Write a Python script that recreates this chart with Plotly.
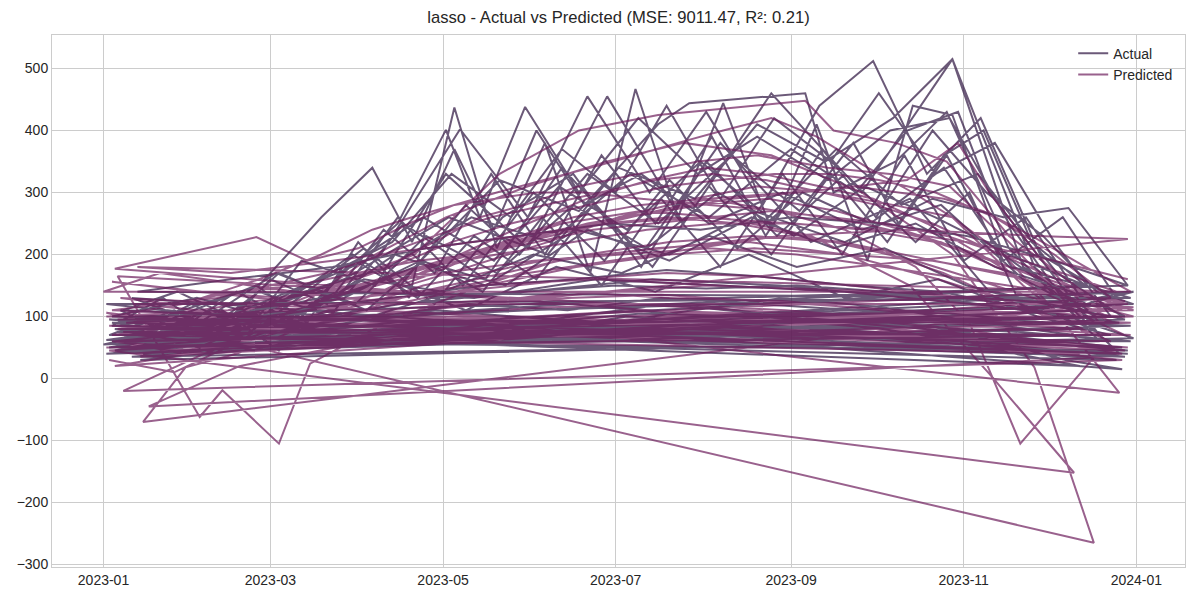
import pandas as pd
import plotly.graph_objects as go

# day offsets from 2023-01-01 (test rows, grouped series)
day_offset = [
    2, 25, 48, 70, 96, 121, 150, 178, 205, 236, 268, 300, 329, 350,
    1, 30, 62, 95, 130, 165, 200, 240, 275, 310, 343,
    6, 28, 55, 80, 106, 135, 162, 190, 218, 250, 285, 313, 343,
    2, 40, 75, 110, 145, 180, 215, 250, 290, 325, 362,
    4, 54, 72, 90, 108, 124, 139, 156, 172, 188, 203, 219, 236, 252, 270, 286, 300, 318, 336, 359,
    3, 33, 64, 92, 120, 152, 183, 214, 245, 276, 305, 334, 361,
    14, 29, 47, 69, 92, 117, 141, 166, 190, 213, 238, 262, 287, 306, 324, 350,
    16, 48, 82, 115, 150, 185, 220, 256, 290, 326, 360,
    7, 26, 45, 62, 83, 104, 127, 152, 177, 200, 224, 247, 271, 297, 321, 346,
    5, 34, 42, 62, 73, 100, 128, 160, 195, 228, 262, 295, 330, 356,
    9, 60, 110, 140, 168, 196, 207, 248, 258, 280, 298, 320, 352,
    10, 52, 96, 140, 180, 222, 265, 305, 345,
    12, 31, 50, 71, 93, 113, 134, 155, 176, 197, 218, 240, 261, 283, 304, 326, 347, 364,
    3, 35, 67, 98, 126, 150, 171, 193, 213, 233, 253, 272, 291, 310, 331, 357,
    1, 44, 88, 131, 174, 218, 262, 306, 349,
    6, 39, 77, 118, 158, 199, 241, 283, 324, 363,
    8, 46, 85, 122, 157, 182, 209, 231, 255, 279, 300, 325, 348,
    2, 36, 74, 103, 135, 167, 200, 230, 262, 293, 318, 341, 362,
    11, 57, 105, 150, 194, 239, 285, 330, 362,
    4, 27, 58, 91, 126, 161, 196, 232, 268, 303, 339, 361,
    3, 21, 40, 59, 79, 99, 117, 137, 156, 176, 195, 215, 234, 254, 273, 293, 312, 332, 351, 364,
    8, 38, 66, 86, 113, 138, 161, 185, 211, 235, 259, 282, 309, 337, 360,
    5, 43, 80, 104, 121, 133, 149, 168, 189, 210, 231, 256, 278, 299, 320, 345,
    2, 31, 63, 97, 129, 164, 197, 232, 266, 299, 334, 363,
    1, 41, 79, 119, 160, 201, 243, 284, 323, 362,
    6, 24, 47, 68, 89, 111, 131, 153, 173, 194, 214, 236, 257, 277, 298, 318, 339, 358,
    0, 20, 52, 84, 116, 148, 181, 213, 245, 277, 309, 341, 364,
    13, 49, 87, 124, 163, 203, 244, 288, 329, 358,
    9, 44, 76, 102, 123, 144, 162, 181, 199, 218, 237, 257, 274, 294, 315, 336, 356,
    4, 30, 58, 85, 112, 142, 171, 200, 229, 258, 287, 315, 342, 361,
    7, 42, 78, 115, 152, 190, 228, 266, 302, 340, 360,
    10, 34, 61, 89, 114, 139, 166, 192, 217, 244, 269, 294, 320, 347,
    3, 39, 71, 101, 130, 158, 186, 214, 243, 266, 284, 302, 313, 330, 352,
    5, 37, 69, 102, 134, 167, 199, 231, 264, 296, 328, 359,
    2, 28, 55, 77, 95, 109, 124, 138, 153, 170, 190, 214, 240, 268, 296, 325, 355,
    7, 35, 63, 88, 105, 128, 147, 171, 196, 222, 246, 265, 281, 297, 311, 328, 347, 363,
    12, 45, 81, 114, 147, 179, 211, 243, 275, 305, 336, 362,
]

actual = [
    70, 110, 60, 190, 150, 330, 210, 455, 250, 460, 300, 515, 180, 90,
    62, 80, 75, 95, 110, 120, 105, 130, 115, 90, 70,
    90, 50, 140, 100, 250, 160, 340, 200, 380, 220, 290, 140, 110,
    40, 65, 80, 70, 100, 90, 115, 95, 85, 60, 45,
    60, 150, 90, 220, 130, 437, 210, 380, 170, 467, 260, 444, 240, 410, 190, 440, 425, 200, 140, 40,
    100, 130, 90, 160, 140, 200, 170, 230, 180, 210, 150, 120, 95,
    40, 90, 60, 130, 210, 120, 260, 330, 180, 350, 230, 330, 220, 300, 120, 80,
    55, 70, 60, 85, 75, 100, 90, 80, 70, 65, 50,
    110, 140, 100, 170, 130, 260, 150, 300, 190, 320, 210, 300, 250, 340, 180, 150,
    80, 50, 110, 45, 120, 160, 110, 180, 140, 200, 130, 160, 100, 70,
    50, 90, 180, 320, 270, 410, 444, 460, 300, 350, 430, 210, 60,
    35, 50, 70, 60, 80, 75, 65, 55, 20,
    75, 120, 80, 150, 110, 190, 140, 260, 150, 290, 180, 330, 200, 360, 190, 260, 120, 140,
    90, 70, 140, 200, 402, 260, 455, 300, 430, 280, 440, 512, 330, 420, 200, 130,
    120, 100, 140, 130, 160, 150, 140, 130, 120,
    65, 55, 90, 110, 95, 120, 100, 85, 75, 60,
    80, 100, 160, 260, 200, 340, 290, 410, 350, 420, 515, 180, 110,
    50, 80, 110, 200, 150, 240, 200, 270, 220, 290, 260, 275, 150,
    100, 85, 120, 140, 160, 150, 130, 110, 140,
    45, 60, 50, 75, 65, 90, 80, 70, 85, 60, 45, 35,
    85, 130, 70, 160, 120, 240, 170, 330, 200, 360, 250, 390, 230, 370, 260, 400, 300, 230, 140, 120,
    60, 110, 80, 180, 260, 190, 310, 240, 350, 260, 370, 280, 330, 170, 100,
    50, 90, 150, 250, 401, 260, 438, 300, 420, 330, 390, 320, 400, 420, 250, 90,
    95, 85, 105, 100, 120, 110, 130, 120, 110, 105, 90, 85,
    40, 55, 65, 60, 70, 75, 70, 60, 50, 40,
    110, 70, 140, 90, 190, 130, 230, 160, 280, 180, 310, 200, 330, 220, 360, 190, 260, 130,
    55, 75, 95, 85, 130, 140, 150, 145, 150, 140, 120, 100, 65,
    30, 45, 60, 55, 65, 60, 55, 50, 40, 30,
    70, 100, 160, 220, 330, 260, 370, 300, 440, 290, 420, 350, 460, 330, 380, 220, 100,
    80, 60, 100, 130, 190, 150, 240, 190, 260, 210, 250, 180, 140, 100,
    70, 60, 80, 95, 90, 105, 100, 90, 75, 30, 15,
    130, 90, 170, 120, 230, 170, 280, 210, 300, 230, 310, 260, 200, 150,
    60, 80, 140, 180, 260, 220, 330, 260, 370, 300, 400, 430, 300, 200, 70,
    75, 90, 110, 130, 150, 160, 175, 165, 150, 140, 110, 90,
    70, 110, 150, 260, 340, 220, 370, 240, 400, 280, 330, 250, 300, 240, 280, 160, 90,
    60, 90, 120, 200, 150, 280, 200, 330, 250, 360, 270, 380, 250, 360, 400, 220, 150, 130,
    140, 160, 180, 210, 230, 250, 240, 260, 250, 230, 190, 150,
]

predicted = [
    30, 10, 60, 120, 200, 260, 310, 350, 380, 360, 300, 200, 18, -265,
    106, 90, 85, 100, 120, 140, 130, 125, 110, 95, 80,
    60, 40, 90, 130, 170, 210, 250, 270, 260, 230, 150, 8, -152,
    45, 55, 60, 75, 90, 100, 105, 95, 80, 60, 50,
    177, 228, 190, 210, 250, 280, 300, 320, 340, 360, 380, 400, 420, 390, 340, 300, 260, 200, 110, -23,
    156, 140, 130, 150, 170, 190, 200, 210, 200, 180, 160, 140, 125,
    -70, 18, 40, 80, 130, 170, 220, 260, 280, 290, 270, 240, 180, 90, -105, 34,
    -45, 20, 50, 70, 80, 95, 100, 90, 70, 45, 30,
    -20, 20, 60, 100, 140, 170, 200, 230, 250, 260, 250, 230, 210, 170, 120, 80,
    165, -62, -19, -105, 24, 90, 140, 190, 210, 220, 200, 160, 110, 60,
    90, 110, 200, 330, 400, 425, 430, 448, 400, 380, 350, 230, 120,
    40, 55, 65, 80, 90, 85, 70, 55, 40,
    70, 60, 80, 100, 120, 150, 170, 190, 200, 210, 220, 230, 220, 200, 180, 160, 120, 100,
    60, 40, 90, 140, 200, 250, 290, 320, 340, 330, 310, 290, 250, 200, 140, 90,
    100, 110, 130, 150, 160, 150, 140, 120, 100,
    70, 80, 90, 105, 115, 120, 110, 95, 80, 70,
    80, 90, 120, 170, 220, 260, 290, 310, 300, 280, 260, 150, 70,
    50, 60, 90, 120, 150, 180, 200, 210, 200, 190, 170, 140, 120,
    120, 100, 130, 170, 200, 230, 240, 230, 225,
    60, 50, 65, 70, 80, 85, 90, 80, 75, 65, 55, 45,
    110, 120, 130, 150, 170, 200, 230, 260, 280, 300, 320, 330, 320, 300, 280, 250, 210, 170, 130, 110,
    90, 100, 110, 140, 180, 210, 240, 260, 280, 290, 270, 240, 200, 150, 110,
    80, 100, 150, 190, 230, 260, 280, 310, 330, 350, 360, 340, 330, 310, 220, 100,
    85, 80, 95, 110, 120, 130, 135, 125, 115, 105, 95, 90,
    50, 55, 60, 70, 75, 80, 75, 65, 55, 50,
    130, 120, 140, 150, 170, 190, 200, 220, 240, 250, 260, 270, 260, 250, 230, 200, 170, 140,
    140, 170, 150, 130, 120, 130, 140, 150, 145, 140, 130, 120, 115,
    35, 45, 55, 60, 70, 65, 60, 50, 45, 40,
    90, 110, 140, 180, 220, 250, 270, 290, 310, 320, 330, 330, 320, 300, 260, 200, 130,
    20, 40, 70, 100, 140, 170, 200, 220, 230, 220, 190, 150, 110, 70,
    75, 70, 85, 95, 100, 110, 105, 95, 80, 55, 40,
    100, 110, 130, 150, 180, 200, 220, 240, 250, 250, 240, 220, 180, 140,
    70, 90, 120, 160, 200, 230, 260, 290, 300, 310, 320, 380, 300, 200, 90,
    95, 100, 115, 130, 145, 160, 170, 165, 150, 135, 115, 100,
    100, 120, 160, 200, 240, 260, 280, 290, 300, 300, 290, 280, 270, 250, 220, 160, 100,
    80, 90, 110, 140, 160, 190, 220, 250, 270, 290, 300, 310, 300, 290, 270, 230, 180, 140,
    180, 170, 190, 210, 230, 250, 260, 250, 240, 220, 190, 160,
]

title_text = "lasso - Actual vs Predicted (MSE: 9011.47, R²: 0.21)"

dates = pd.Timestamp("2023-01-01") + pd.to_timedelta(day_offset, unit="D")

# matplotlib-style 5% margins
dmin, dmax = dates.min(), dates.max()
dpad = (dmax - dmin) * 0.05
all_y = actual + predicted
ymin, ymax = min(all_y), max(all_y)
ypad = (ymax - ymin) * 0.05

fig = go.Figure()
fig.add_trace(go.Scatter(x=dates, y=actual, mode="lines", name="Actual",
                         line=dict(color="rgba(44,19,62,0.7)", width=2)))
fig.add_trace(go.Scatter(x=dates, y=predicted, mode="lines", name="Predicted",
                         line=dict(color="rgba(110,30,92,0.7)", width=2)))

font_family = "Liberation Sans, Arial, sans-serif"
fig.update_layout(
    width=1200, height=600,
    margin=dict(l=52, r=15, t=35, b=33, autoexpand=False),
    paper_bgcolor="white", plot_bgcolor="white",
    font=dict(family=font_family, size=14, color="#262626"),
    title=dict(text=title_text, x=0.5, xref="paper", y=1 - 11 / 600, yref="container",
               xanchor="center", yanchor="top",
               font=dict(family=font_family, size=16.6, color="#262626")),
    showlegend=True,
    legend=dict(x=0.994, y=0.995, xanchor="right", yanchor="top",
                bgcolor="rgba(0,0,0,0)", borderwidth=0,
                font=dict(family=font_family, size=14, color="#262626"),
                tracegroupgap=0),
)
fig.update_xaxes(
    type="date", range=[dmin - dpad, dmax + dpad], automargin=False,
    tick0="2023-01-01", dtick="M2", tickformat="%Y-%m",
    showgrid=True, gridcolor="#cccccc", gridwidth=1,
    showline=True, linecolor="#cccccc", linewidth=1, mirror=True,
    ticks="", zeroline=False, tickfont=dict(size=14),
)
fig.update_yaxes(
    range=[ymin - ypad, ymax + ypad], dtick=100, tick0=0, automargin=False,
    showgrid=True, gridcolor="#cccccc", gridwidth=1,
    showline=True, linecolor="#cccccc", linewidth=1, mirror=True,
    ticks="", zeroline=False, tickfont=dict(size=14),
)

# remove the browser's default page margin so the figure sits at the window's corner
fig.write_html("out.html", config={"displayModeBar": False},
               post_script="document.body.style.margin='0';")
